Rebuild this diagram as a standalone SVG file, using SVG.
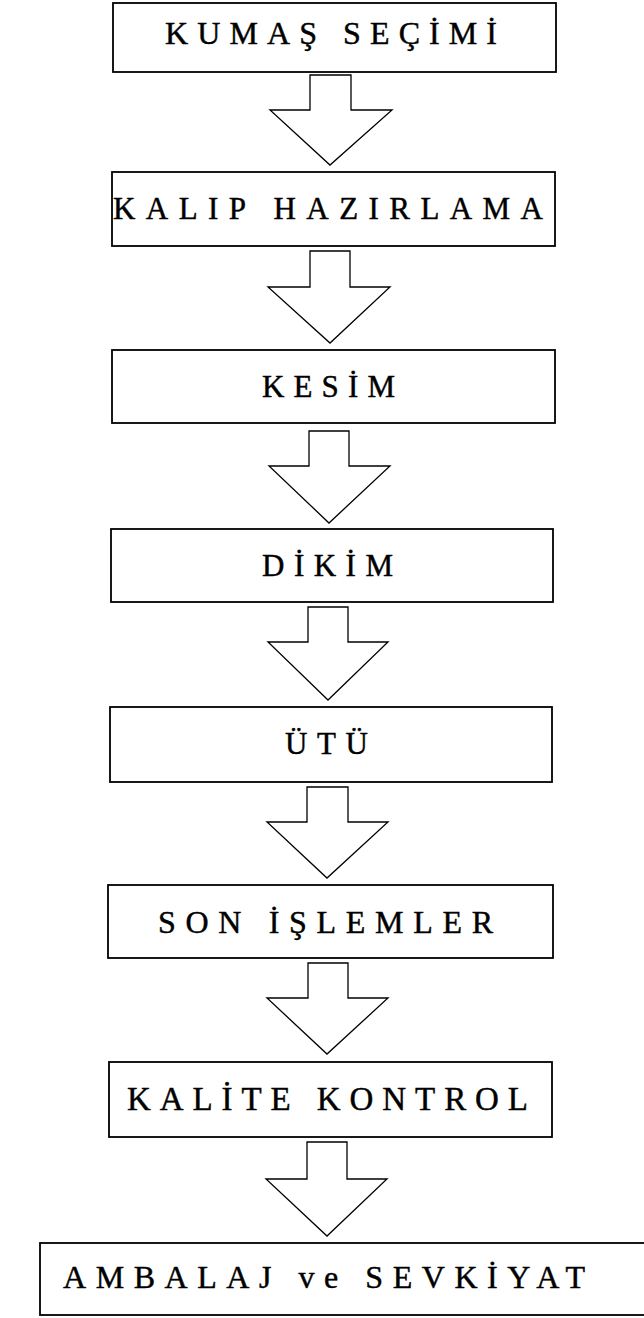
<svg xmlns="http://www.w3.org/2000/svg" width="644" height="1318" viewBox="0 0 644 1318">
<style>
.box{fill:#fff;stroke:#000;stroke-width:1.8}
.arr{fill:#fff;stroke:#000;stroke-width:1.3;stroke-linejoin:miter}
.lbl{font-family:"Liberation Serif","Times New Roman",serif;fill:#000;stroke:#000;stroke-width:0.45}
</style>
<rect width="644" height="1318" fill="#fff"/>
<g id="connectors">
<polygon class="arr" points="310,75 351,75 351,110 392,110 330,165 270,110 310,110"/>
<polygon class="arr" points="310,251 350,251 350,287 390,287 330,343 268,287 310,287"/>
<polygon class="arr" points="309,431 349,431 349,466 390,466 329,523 269,466 309,466"/>
<polygon class="arr" points="308,607 348,607 348,642 388,642 328,700 268,642 308,642"/>
<polygon class="arr" points="307,787 348,787 348,822 388,822 327,878 267,822 307,822"/>
<polygon class="arr" points="308,963 348,963 348,998 388,998 327,1054 267,998 308,998"/>
<polygon class="arr" points="307,1142 347,1142 347,1179 387,1179 327,1236 266,1179 307,1179"/>
</g>
<g id="n1"><rect class="box" x="113" y="3" width="443" height="69"/><text class="lbl" x="165" y="44" font-size="32" textLength="332" lengthAdjust="spacing">KUMAŞ SEÇİMİ</text></g>
<g id="n2"><rect class="box" x="112" y="172" width="443" height="74"/><text class="lbl" x="113" y="219" font-size="31" textLength="430" lengthAdjust="spacing">KALIP HAZIRLAMA</text></g>
<g id="n3"><rect class="box" x="112" y="350" width="443" height="73"/><text class="lbl" x="262" y="397" font-size="31" textLength="133" lengthAdjust="spacing">KESİM</text></g>
<g id="n4"><rect class="box" x="111" y="529" width="442" height="73"/><text class="lbl" x="262" y="576" font-size="31" textLength="131" lengthAdjust="spacing">DİKİM</text></g>
<g id="n5"><rect class="box" x="110" y="707" width="442" height="75"/><text class="lbl" x="285" y="754" font-size="31" textLength="83" lengthAdjust="spacing">ÜTÜ</text></g>
<g id="n6"><rect class="box" x="108" y="885" width="445" height="73"/><text class="lbl" x="158" y="933" font-size="32" textLength="335" lengthAdjust="spacing">SON İŞLEMLER</text></g>
<g id="n7"><rect class="box" x="109" y="1062" width="443" height="75"/><text class="lbl" x="127" y="1110" font-size="33" textLength="401" lengthAdjust="spacing">KALİTE KONTROL</text></g>
<g id="n8"><rect class="box" x="40" y="1243" width="620" height="72"/><text class="lbl" x="63" y="1288" font-size="32" textLength="522" lengthAdjust="spacing">AMBALAJ ve SEVKİYAT</text></g>
</svg>
